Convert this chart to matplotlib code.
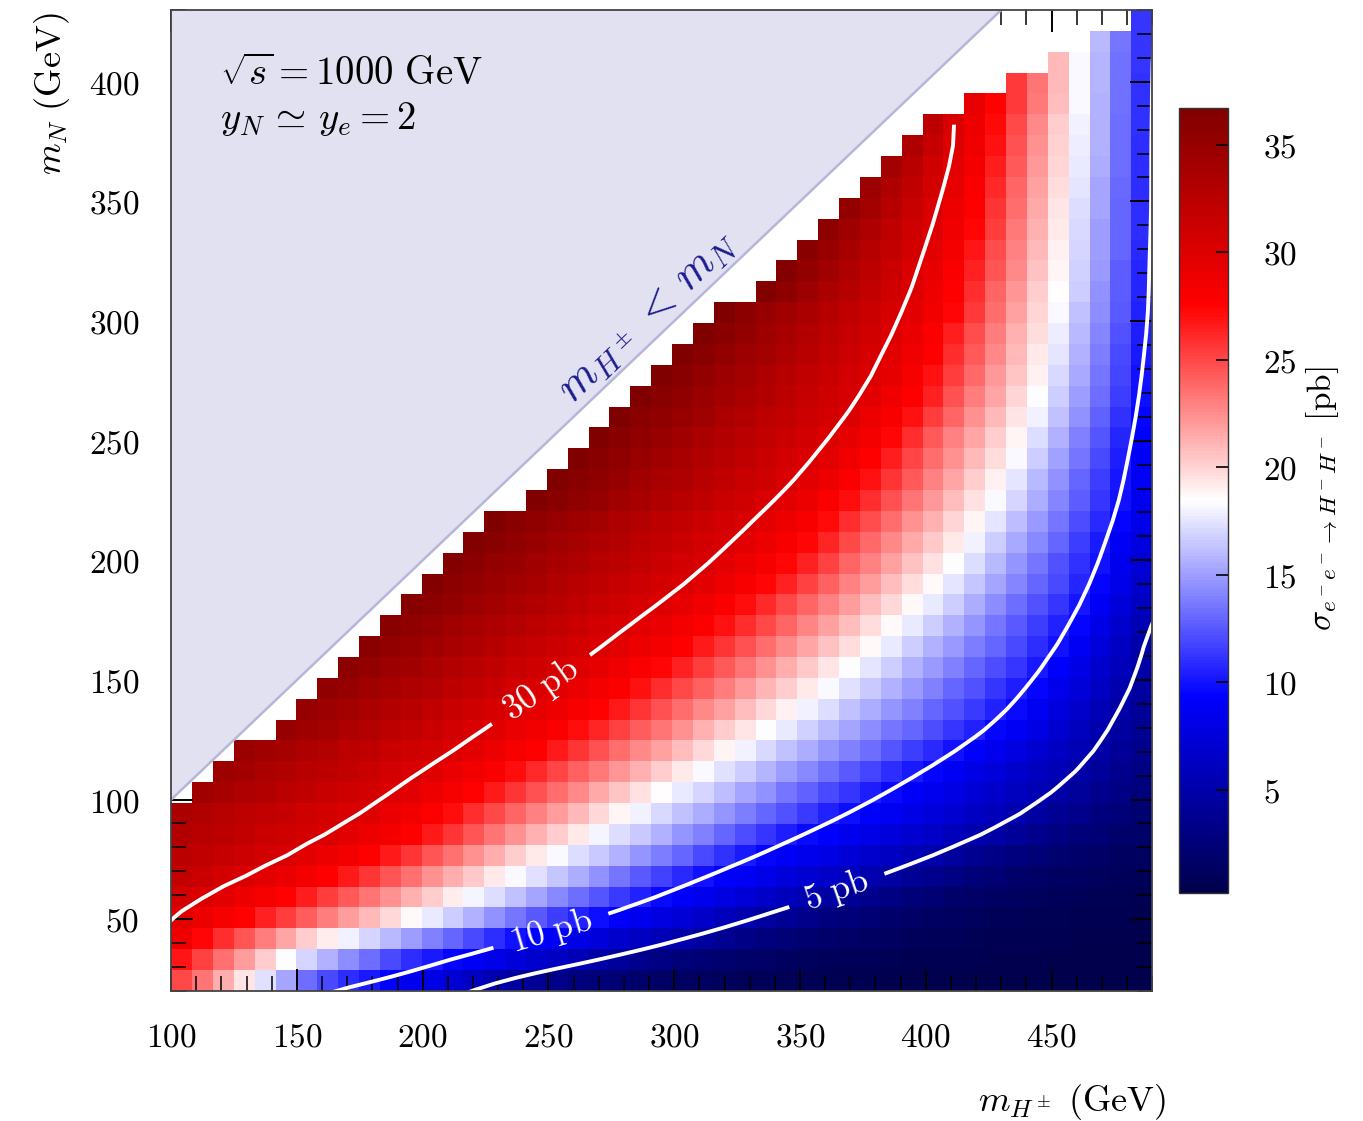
import numpy as np
import matplotlib
matplotlib.use("Agg")
import matplotlib.pyplot as plt
from matplotlib.ticker import MultipleLocator, FuncFormatter
from matplotlib.patches import Polygon

plt.rcParams['mathtext.fontset'] = 'cm'
plt.rcParams['font.family'] = ['DejaVu Serif']

# ---------------- data ----------------
# cell edges of the scan grid (GeV)
mH_edges = np.linspace(100, 490, 48)
mN_edges = np.linspace(20, 430, 48)

# cross section [pb]; one list per m_N row (bottom -> top), values run to the
# right edge (m_H = 490); cells left of each list are empty (m_N too large)
r00 = [25.0, 23.3, 21.4, 19.4, 17.4, 15.3, 13.3, 12.0, 11.0, 10.2, 9.4, 8.6, 7.9, 7.1, 6.2, 5.4, 4.6, 4.0, 3.4, 2.9, 2.5, 2.2, 1.9, 1.6, 1.4, 1.2, 1.1, 0.9, 0.8, 0.7, 0.7, 0.6, 0.5, 0.5, 0.4, 0.4, 0.4, 0.3, 0.3, 0.3, 0.3, 0.3, 0.3, 0.3, 0.2, 0.2, 0.2]
r01 = [26.8, 25.2, 23.5, 21.9, 20.2, 18.4, 16.9, 15.6, 14.4, 13.2, 12.0, 11.0, 10.2, 9.5, 8.9, 8.3, 7.6, 6.9, 6.3, 5.6, 4.9, 4.2, 3.6, 3.1, 2.6, 2.3, 2.0, 1.7, 1.5, 1.3, 1.1, 1.0, 0.9, 0.8, 0.7, 0.6, 0.6, 0.5, 0.5, 0.4, 0.4, 0.4, 0.3, 0.3, 0.3, 0.3, 0.3]
r02 = [28.8, 27.4, 25.9, 24.5, 23.1, 21.7, 20.3, 19.1, 17.9, 16.9, 15.9, 14.9, 13.9, 12.9, 11.9, 10.9, 9.9, 9.3, 8.7, 8.1, 7.5, 6.9, 6.3, 5.7, 5.1, 4.4, 3.8, 3.3, 2.8, 2.4, 2.1, 1.8, 1.6, 1.4, 1.2, 1.0, 0.9, 0.8, 0.7, 0.6, 0.6, 0.5, 0.5, 0.4, 0.4, 0.4, 0.3]
r03 = [29.6, 28.9, 28.2, 27.5, 26.4, 25.3, 24.2, 23.1, 22.0, 20.9, 19.8, 18.6, 17.6, 16.6, 15.6, 14.6, 13.6, 12.6, 11.6, 10.6, 9.8, 9.1, 8.5, 7.8, 7.2, 6.6, 5.9, 5.3, 4.6, 4.0, 3.4, 2.9, 2.5, 2.2, 1.9, 1.6, 1.4, 1.2, 1.1, 0.9, 0.8, 0.7, 0.7, 0.6, 0.5, 0.5, 0.4]
r04 = [30.8, 30.2, 29.5, 28.8, 28.2, 27.5, 26.5, 25.4, 24.4, 23.3, 22.3, 21.2, 20.2, 19.1, 18.1, 17.2, 16.2, 15.3, 14.3, 13.3, 12.4, 11.4, 10.5, 9.7, 9.1, 8.5, 7.8, 7.2, 6.6, 6.0, 5.4, 4.7, 4.0, 3.5, 3.0, 2.6, 2.2, 1.9, 1.6, 1.4, 1.2, 1.1, 1.0, 0.8, 0.7, 0.7, 0.6]
r05 = [31.8, 31.3, 30.7, 30.2, 29.7, 29.1, 28.4, 27.6, 26.6, 25.6, 24.5, 23.5, 22.4, 21.4, 20.4, 19.3, 18.3, 17.4, 16.4, 15.5, 14.5, 13.6, 12.6, 11.7, 10.8, 9.9, 9.3, 8.8, 8.2, 7.6, 7.0, 6.5, 5.9, 5.3, 4.7, 4.0, 3.5, 3.0, 2.6, 2.2, 1.9, 1.6, 1.4, 1.2, 1.1, 1.0, 0.8]
r06 = [32.5, 32.1, 31.6, 31.2, 30.7, 30.3, 29.7, 29.0, 28.4, 27.7, 26.7, 25.6, 24.5, 23.5, 22.4, 21.4, 20.3, 19.3, 18.2, 17.3, 16.5, 15.6, 14.7, 13.8, 12.9, 12.0, 11.1, 10.3, 9.6, 9.0, 8.4, 7.9, 7.3, 6.8, 6.2, 5.6, 5.1, 4.4, 3.7, 3.2, 2.8, 2.4, 2.0, 1.8, 1.5, 1.3, 1.2]
r07 = [33.1, 32.7, 32.3, 31.9, 31.4, 31.0, 30.6, 30.2, 29.7, 29.0, 28.3, 27.6, 26.6, 25.6, 24.5, 23.4, 22.4, 21.3, 20.2, 19.2, 18.1, 17.3, 16.5, 15.6, 14.7, 13.9, 13.0, 12.1, 11.3, 10.4, 9.7, 9.2, 8.6, 8.1, 7.6, 7.0, 6.5, 5.9, 5.4, 4.8, 4.1, 3.5, 3.0, 2.6, 2.2, 1.9, 1.7]
r08 = [33.6, 33.2, 32.8, 32.4, 32.0, 31.6, 31.1, 30.7, 30.3, 29.9, 29.1, 28.5, 27.8, 27.1, 26.0, 25.0, 24.0, 22.9, 21.9, 20.9, 19.8, 18.8, 17.9, 17.1, 16.3, 15.5, 14.7, 13.8, 13.0, 12.2, 11.4, 10.6, 9.8, 9.3, 8.7, 8.1, 7.5, 7.0, 6.4, 5.8, 5.2, 4.6, 3.9, 3.4, 2.9, 2.5, 2.1]
r09 = [34.4, 33.9, 33.4, 33.0, 32.5, 32.0, 31.5, 31.1, 30.6, 30.1, 29.5, 28.8, 28.2, 27.5, 26.6, 25.6, 24.6, 23.6, 22.6, 21.5, 20.5, 19.5, 18.5, 17.7, 16.9, 16.1, 15.3, 14.5, 13.6, 12.8, 12.0, 11.2, 10.4, 9.7, 9.1, 8.5, 7.9, 7.3, 6.7, 6.1, 5.5, 4.9, 4.2, 3.6, 3.1, 2.7]
r10 = [34.7, 34.2, 33.7, 33.2, 32.7, 32.3, 31.8, 31.3, 30.8, 30.3, 29.8, 29.1, 28.5, 27.9, 27.1, 26.1, 25.1, 24.1, 23.2, 22.2, 21.2, 20.2, 19.2, 18.2, 17.4, 16.6, 15.8, 15.0, 14.2, 13.4, 12.6, 11.8, 11.0, 10.2, 9.5, 8.8, 8.1, 7.5, 6.8, 6.1, 5.5, 4.9, 4.2, 3.6, 3.1]
r11 = [34.8, 34.3, 33.9, 33.4, 32.9, 32.4, 32.0, 31.5, 31.0, 30.6, 30.1, 29.5, 28.9, 28.2, 27.6, 26.7, 25.7, 24.7, 23.7, 22.7, 21.8, 20.8, 19.8, 18.8, 17.9, 17.1, 16.3, 15.5, 14.7, 13.9, 13.2, 12.4, 11.6, 10.8, 10.0, 9.3, 8.5, 7.8, 7.0, 6.3, 5.5, 4.8, 4.1, 3.5]
r12 = [35.0, 34.5, 34.0, 33.4, 32.9, 32.4, 31.9, 31.4, 30.8, 30.3, 29.8, 29.1, 28.5, 27.9, 27.1, 26.2, 25.2, 24.2, 23.3, 22.3, 21.3, 20.3, 19.4, 18.4, 17.6, 16.8, 16.0, 15.2, 14.4, 13.6, 12.9, 12.1, 11.3, 10.5, 9.6, 8.8, 7.9, 7.0, 6.1, 5.2, 4.5, 3.8]
r13 = [35.1, 34.6, 34.1, 33.6, 33.1, 32.6, 32.0, 31.5, 31.0, 30.5, 30.0, 29.4, 28.8, 28.1, 27.5, 26.6, 25.6, 24.7, 23.7, 22.7, 21.8, 20.8, 19.8, 18.9, 18.0, 17.2, 16.3, 15.5, 14.7, 13.9, 13.0, 12.2, 11.4, 10.6, 9.7, 8.7, 7.7, 6.7, 5.7, 4.8, 4.1]
r14 = [35.5, 35.0, 34.4, 33.9, 33.4, 32.9, 32.3, 31.8, 31.3, 30.8, 30.2, 29.7, 29.1, 28.4, 27.8, 27.0, 26.0, 25.0, 24.1, 23.1, 22.1, 21.1, 20.2, 19.2, 18.2, 17.4, 16.5, 15.6, 14.8, 13.9, 13.0, 12.2, 11.3, 10.4, 9.5, 8.4, 7.4, 6.4, 5.3, 4.5]
r15 = [35.8, 35.3, 34.7, 34.2, 33.7, 33.1, 32.6, 32.1, 31.5, 31.0, 30.5, 29.9, 29.3, 28.7, 28.0, 27.3, 26.3, 25.3, 24.3, 23.3, 22.4, 21.4, 20.4, 19.4, 18.4, 17.5, 16.6, 15.7, 14.8, 13.9, 13.0, 12.1, 11.2, 10.3, 9.2, 8.1, 6.9, 5.8, 4.8]
r16 = [35.9, 35.4, 34.9, 34.3, 33.8, 33.3, 32.8, 32.2, 31.7, 31.2, 30.7, 30.2, 29.5, 28.9, 28.3, 27.6, 26.7, 25.7, 24.7, 23.6, 22.6, 21.6, 20.6, 19.6, 18.6, 17.6, 16.7, 15.7, 14.8, 13.8, 12.9, 11.9, 11.0, 10.0, 8.8, 7.5, 6.3, 5.0]
r17 = [36.0, 35.5, 35.0, 34.4, 33.9, 33.4, 32.9, 32.4, 31.9, 31.3, 30.8, 30.3, 29.7, 29.1, 28.4, 27.8, 26.9, 25.9, 24.9, 23.9, 22.8, 21.8, 20.8, 19.7, 18.7, 17.7, 16.7, 15.7, 14.7, 13.6, 12.6, 11.6, 10.6, 9.5, 8.1, 6.8, 5.5]
r18 = [36.2, 35.7, 35.2, 34.6, 34.1, 33.6, 33.1, 32.6, 32.0, 31.5, 31.0, 30.5, 29.9, 29.3, 28.6, 27.9, 27.1, 26.1, 25.0, 24.0, 22.9, 21.9, 20.8, 19.8, 18.7, 17.6, 16.6, 15.5, 14.4, 13.3, 12.3, 11.2, 10.1, 8.8, 7.5, 6.2]
r19 = [36.3, 35.8, 35.3, 34.8, 34.3, 33.8, 33.2, 32.7, 32.2, 31.7, 31.2, 30.7, 30.2, 29.5, 28.8, 28.1, 27.4, 26.3, 25.2, 24.1, 23.0, 21.9, 20.8, 19.7, 18.6, 17.5, 16.4, 15.2, 14.1, 13.0, 11.9, 10.7, 9.5, 8.2, 6.9]
r20 = [36.4, 35.9, 35.4, 34.9, 34.4, 33.8, 33.3, 32.8, 32.3, 31.8, 31.3, 30.8, 30.3, 29.6, 28.9, 28.2, 27.4, 26.3, 25.2, 24.0, 22.9, 21.8, 20.7, 19.5, 18.4, 17.2, 16.0, 14.7, 13.5, 12.3, 11.1, 9.9, 8.6, 7.3]
r21 = [36.5, 36.0, 35.5, 34.9, 34.4, 33.9, 33.4, 32.9, 32.3, 31.8, 31.3, 30.8, 30.3, 29.6, 28.9, 28.1, 27.3, 26.2, 25.0, 23.8, 22.7, 21.5, 20.4, 19.2, 18.0, 16.7, 15.4, 14.2, 12.9, 11.6, 10.3, 9.0, 7.7]
r22 = [36.6, 36.1, 35.5, 35.0, 34.5, 34.0, 33.4, 32.9, 32.4, 31.8, 31.3, 30.8, 30.3, 29.6, 28.8, 28.1, 27.2, 26.0, 24.8, 23.6, 22.4, 21.2, 20.0, 18.8, 17.5, 16.1, 14.8, 13.5, 12.1, 10.8, 9.5, 8.2]
r23 = [36.7, 36.1, 35.5, 35.0, 34.4, 33.8, 33.2, 32.7, 32.1, 31.5, 30.9, 30.3, 29.7, 28.9, 28.0, 27.1, 25.9, 24.6, 23.3, 22.1, 20.8, 19.5, 18.3, 16.9, 15.5, 14.1, 12.7, 11.3, 9.9, 8.6]
r24 = [36.7, 36.1, 35.6, 35.0, 34.4, 33.8, 33.3, 32.7, 32.1, 31.5, 31.0, 30.4, 29.7, 28.9, 28.0, 27.0, 25.6, 24.3, 22.9, 21.6, 20.3, 18.9, 17.5, 16.0, 14.5, 13.0, 11.6, 10.1, 8.8]
r25 = [36.7, 36.1, 35.5, 34.9, 34.3, 33.8, 33.2, 32.6, 32.0, 31.4, 30.8, 30.2, 29.5, 28.6, 27.7, 26.5, 25.1, 23.7, 22.4, 21.0, 19.6, 18.2, 16.7, 15.1, 13.5, 12.0, 10.4, 9.0]
r26 = [36.7, 36.1, 35.5, 34.9, 34.3, 33.7, 33.1, 32.5, 31.9, 31.3, 30.7, 30.1, 29.3, 28.4, 27.4, 25.9, 24.4, 23.0, 21.6, 20.2, 18.8, 17.3, 15.6, 14.0, 12.4, 10.7, 9.3]
r27 = [36.7, 36.1, 35.5, 34.9, 34.3, 33.7, 33.0, 32.4, 31.8, 31.2, 30.6, 30.0, 29.0, 28.1, 26.9, 25.4, 23.9, 22.4, 20.9, 19.4, 17.9, 16.2, 14.5, 12.8, 11.1, 9.5]
r28 = [36.7, 36.1, 35.5, 34.8, 34.2, 33.6, 33.0, 32.3, 31.7, 31.1, 30.5, 29.7, 28.7, 27.7, 26.3, 24.7, 23.1, 21.6, 20.0, 18.4, 16.7, 14.9, 13.2, 11.5, 9.8]
r29 = [36.7, 36.0, 35.4, 34.7, 34.1, 33.4, 32.8, 32.1, 31.5, 30.8, 30.2, 29.3, 28.2, 27.0, 25.4, 23.8, 22.1, 20.5, 18.9, 17.1, 15.4, 13.6, 11.8, 10.0]
r30 = [36.7, 36.0, 35.3, 34.6, 34.0, 33.3, 32.6, 31.9, 31.2, 30.5, 29.7, 28.7, 27.6, 26.0, 24.3, 22.6, 20.9, 19.2, 17.5, 15.7, 13.8, 12.0, 10.2]
r31 = [36.7, 36.0, 35.2, 34.5, 33.8, 33.1, 32.3, 31.6, 30.9, 30.1, 29.1, 28.0, 26.5, 24.8, 23.1, 21.3, 19.6, 17.8, 15.9, 14.1, 12.2, 10.4]
r32 = [36.6, 35.8, 35.1, 34.3, 33.6, 32.8, 32.0, 31.3, 30.5, 29.7, 28.5, 27.3, 25.5, 23.6, 21.8, 20.0, 18.2, 16.3, 14.4, 12.5, 10.6]
r33 = [36.5, 35.6, 34.6, 33.7, 32.8, 31.9, 30.9, 30.0, 28.8, 27.6, 25.9, 24.0, 22.2, 20.3, 18.5, 16.6, 14.6, 12.7, 10.7]
r34 = [36.3, 35.3, 34.3, 33.3, 32.3, 31.3, 30.3, 29.2, 28.0, 26.4, 24.5, 22.6, 20.7, 18.8, 16.8, 14.8, 12.7, 10.7]
r35 = [36.0, 34.9, 33.9, 32.8, 31.8, 30.7, 29.6, 28.3, 26.8, 24.8, 22.9, 20.9, 19.0, 17.0, 14.9, 12.9, 10.8]
r36 = [35.6, 34.5, 33.4, 32.2, 31.1, 29.9, 28.7, 27.3, 25.3, 23.2, 21.2, 19.2, 17.1, 15.0, 12.9, 10.9]
r37 = [35.2, 34.0, 32.8, 31.5, 30.3, 29.0, 27.7, 25.7, 23.6, 21.5, 19.4, 17.3, 15.2, 13.0, 10.9]
r38 = [34.7, 33.4, 32.0, 30.7, 29.3, 28.0, 26.1, 24.0, 21.8, 19.7, 17.5, 15.3, 13.1, 11.0]
r39 = [34.1, 32.6, 31.1, 29.7, 28.3, 26.5, 24.3, 22.1, 19.9, 17.7, 15.5, 13.2, 11.0]
r40 = [33.3, 31.7, 30.0, 28.6, 26.9, 24.6, 22.4, 20.1, 17.8, 15.6, 13.3, 11.0]
r41 = [32.3, 30.4, 28.8, 27.2, 24.9, 22.6, 20.3, 17.9, 15.6, 13.3, 11.1]
r42 = [29.2, 27.5, 25.5, 23.2, 20.8, 18.2, 15.7, 13.4, 11.1]
r43 = [25.5, 23.3, 21.0, 18.3, 15.8, 13.4, 11.1]
r44 = [21.0, 18.3, 15.8, 13.4, 11.2]
r45 = [16.0, 13.6, 11.2]
r46 = [11.3]

sigma_rows = [r00, r01, r02, r03, r04, r05, r06, r07, r08, r09, r10, r11, r12,
              r13, r14, r15, r16, r17, r18, r19, r20, r21, r22, r23, r24, r25,
              r26, r27, r28, r29, r30, r31, r32, r33, r34, r35, r36, r37, r38,
              r39, r40, r41, r42, r43, r44, r45, r46]

contour_levels = [5, 10, 30]
contour_texts = {5: r'$5\ \mathrm{pb}$', 10: r'$10\ \mathrm{pb}$', 30: r'$30\ \mathrm{pb}$'}
contour_label_pos = [(247, 146), (251, 45), (364, 64)]
xticks = [100, 150, 200, 250, 300, 350, 400, 450]
yticks = [50, 100, 150, 200, 250, 300, 350, 400]
cbar_ticks = [5, 10, 15, 20, 25, 30, 35]

# ---------------- build grid ----------------
nx = len(mH_edges) - 1
ny = len(mN_edges) - 1
Z = np.full((ny, nx), np.nan)
for k, r in enumerate(sigma_rows):
    Z[k, nx - len(r):] = r

xc = 0.5 * (mH_edges[1:] + mH_edges[:-1])
yc = 0.5 * (mN_edges[1:] + mN_edges[:-1])
dx = xc[1] - xc[0]
dy = yc[1] - yc[0]

# contour field: cell centres plus linearly continued margin (P cells) so the
# lines reach the frame and the smoothing is unbiased at the borders
P = 3
E = np.full((ny + 2 * P, nx + 2 * P), np.nan)
E[P:-P, P:-P] = Z
for i in range(P):
    c = P - 1 - i
    E[P:-P, c] = 2 * E[P:-P, c + 1] - E[P:-P, c + 2]
    c2 = nx + P + i
    E[P:-P, c2] = 2 * E[P:-P, c2 - 1] - E[P:-P, c2 - 2]
for i in range(P):
    r_ = P - 1 - i
    E[r_, :] = 2 * E[r_ + 1, :] - E[r_ + 2, :]
    r2 = ny + P + i
    E[r2, :] = 2 * E[r2 - 1, :] - E[r2 - 2, :]


def smooth_nan(A, passes=2):
    """normalised [1,2,1] smoothing that ignores empty cells"""
    M = np.isfinite(A)
    V = np.where(M, A, 0.0)
    W = M.astype(float)
    k = np.array([0.25, 0.5, 0.25])
    for _ in range(passes):
        for axis in (0, 1):
            V = np.apply_along_axis(lambda v: np.convolve(v, k, mode='same'), axis, V)
            W = np.apply_along_axis(lambda v: np.convolve(v, k, mode='same'), axis, W)
    S = np.full(A.shape, np.nan)
    S[M] = V[M] / W[M]
    return S


Es = smooth_nan(E, passes=2)
xe = xc[0] + dx * (np.arange(nx + 2 * P) - P)
ye = yc[0] + dy * (np.arange(ny + 2 * P) - P)

# ---------------- figure ----------------
fig = plt.figure(figsize=(13.63, 11.21), dpi=100)
ax = fig.add_axes([0.1256, 0.1160, 0.7197, 0.8751])
cax = fig.add_axes([0.8650, 0.2034, 0.0360, 0.7002])

mesh = ax.pcolormesh(mH_edges, mN_edges, np.ma.masked_invalid(Z), cmap='seismic',
                     shading='flat', edgecolors='face', linewidth=0.0, zorder=1)

xlo, xhi = mH_edges[0], mH_edges[-1]
ylo, yhi = mN_edges[0], mN_edges[-1]

# forbidden region m_H < m_N
ax.add_patch(Polygon([(xlo, xlo), (yhi, yhi), (xlo, yhi)], closed=True,
                     facecolor='#e1e1f1', edgecolor='none', zorder=2))
ax.plot([xlo, yhi], [xlo, yhi], color='#b6b6da', lw=1.8, zorder=3)

cs = ax.contour(xe, ye, np.ma.masked_invalid(Es), levels=contour_levels,
                colors='white', linewidths=2.8, zorder=4)
lbls = ax.clabel(cs, fmt=contour_texts, fontsize=25, inline=True,
                 inline_spacing=12, manual=contour_label_pos)

ax.set_xlim(xlo, xhi)
ax.set_ylim(ylo, yhi)

ax.xaxis.set_major_locator(plt.FixedLocator(xticks))
ax.yaxis.set_major_locator(plt.FixedLocator(yticks))
ax.xaxis.set_minor_locator(MultipleLocator(10))
ax.yaxis.set_minor_locator(MultipleLocator(10))
fmt = FuncFormatter(lambda v, p: r'$%d$' % int(round(v)))
ax.xaxis.set_major_formatter(fmt)
ax.yaxis.set_major_formatter(fmt)
ax.tick_params(which='both', direction='in', top=True, right=True,
               color='black', zorder=6)
ax.tick_params(which='major', length=16, width=1.4, labelsize=24)
ax.tick_params(which='minor', length=10.5, width=1.1)
ax.tick_params(axis='x', which='major', pad=22)
ax.tick_params(axis='y', which='major', pad=23)
for sp in ax.spines.values():
    sp.set_color('#444444')
    sp.set_linewidth(1.3)
    sp.set_zorder(7)

ax.text(0.05, 0.953, r'$\sqrt{s} = 1000\ \mathrm{GeV}$', transform=ax.transAxes,
        fontsize=28, ha='left', va='top', zorder=8)
ax.text(0.05, 0.908, r'$y_N \,\simeq\, y_e = 2$', transform=ax.transAxes,
        fontsize=28, ha='left', va='top', zorder=8)
ax.text(289, 302, r'$m_{H^\pm} \,<\, m_N$', rotation=43.8, rotation_mode='anchor',
        ha='center', va='center', fontsize=32, color='#1c1c8e', zorder=8)

ax.text(-0.121, 0.915, r'$m_N\ (\mathrm{GeV})$', transform=ax.transAxes,
        rotation=90, ha='center', va='center', fontsize=26)
ax.text(0.918, -0.113, r'$m_{H^\pm}\ (\mathrm{GeV})$', transform=ax.transAxes,
        ha='center', va='center', fontsize=26)

cb = fig.colorbar(mesh, cax=cax, ticks=cbar_ticks)
cb.outline.set_edgecolor('#333333')
cb.outline.set_linewidth(1.0)
cax.yaxis.set_major_formatter(fmt)
cax.tick_params(direction='in', length=9, width=1.2, labelsize=24, pad=25,
                color='black')
fig.text(0.970, 0.555, r'$\sigma_{e^-e^-\to H^-H^-}\ [\mathrm{pb}]$', rotation=90,
         ha='center', va='center', fontsize=24)

for k, r in enumerate(sigma_rows):
    if len(r) > nx:
        print('row too long', k)

fig.savefig('out.png', dpi=100)
